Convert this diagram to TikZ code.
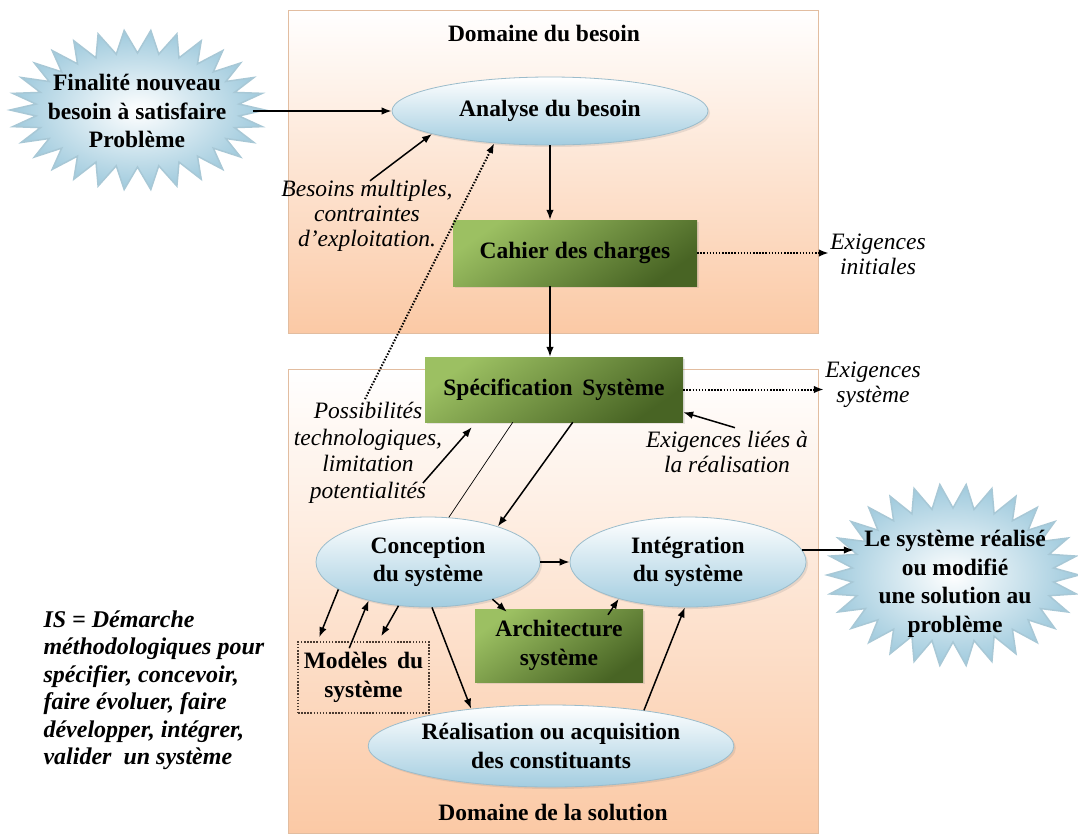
\documentclass[tikz,border=0pt]{standalone}
\usepackage{fontspec}
\setmainfont{Liberation Serif}
\usetikzlibrary{shapes.geometric,arrows.meta,shadows}
\definecolor{peach}{HTML}{FBC9A5}
\definecolor{peachedge}{HTML}{E2BDA0}
\definecolor{ellblue}{HTML}{A3CDE0}
\definecolor{ellline}{HTML}{9BBCCB}
\definecolor{glight}{HTML}{9CC062}
\definecolor{gdark}{HTML}{486424}
\definecolor{burstblue}{HTML}{9FCADD}
\definecolor{burstline}{HTML}{A8C8D6}
\definecolor{dotcol}{HTML}{4A3A30}
\begin{document}
\begin{tikzpicture}[x=1pt,y=-1pt,
  bf/.style={font=\fontsize{23.5}{28.5}\selectfont\bfseries,align=center,text=black},
  it/.style={font=\fontsize{23.5}{25}\selectfont\itshape,align=center,text=black},
  dombox/.style={rectangle,draw=peachedge,line width=1pt,top color=white,bottom color=peach,inner sep=0pt},
  ell/.style={ellipse,draw=ellline,line width=0.8pt,top color=white,bottom color=ellblue,inner sep=0pt,bf,
    drop shadow={opacity=0.18,shadow xshift=2pt,shadow yshift=-2pt}},
  gbox/.style={rectangle,inner sep=0pt,bf,top color=glight,bottom color=gdark,shading angle=35,
    drop shadow={opacity=0.18,shadow xshift=2pt,shadow yshift=-2pt}},
  burstsh/.style={draw=burstline,line width=1.5pt,inner color=white,outer color=burstblue},
  arr/.style={-{Latex[length=10pt,width=7.5pt]},line width=1.5pt},
  thinline/.style={line width=0.7pt},
  darr/.style={-{Latex[length=10pt,width=7.5pt]},line width=2pt,dash pattern=on 1.5pt off 1.6pt},
  dotbox/.style={rectangle,draw=dotcol,line width=1.6pt,dash pattern=on 1.5pt off 1.6pt,inner sep=0pt,bf}
]
\path[use as bounding box,fill=white] (0,0) rectangle (1078,836);

% domain boxes
\node[dombox,minimum width=530pt,minimum height=323pt] (besoinBox) at (553,171.5) {};
\node[dombox,minimum width=530pt,minimum height=464pt] (solBox) at (553,601) {};
\node[bf] (besTitle) at (544,33) {Domaine du besoin};
\node[bf] (solTitle) at (553,812) {Domaine de la solution};

% bursts
\path[burstsh] (265,110) \foreach \k in {0,...,29} {
   -- ({137.5+127.5*cos(\k*12)},{110+80*sin(\k*12)})
   -- ({137.5+102*cos((\k+0.5)*12)},{110+57*sin((\k+0.5)*12)}) } -- cycle;
\path[burstsh] (1079,575) \foreach \k in {0,...,29} {
   -- ({953+126*cos(\k*12)},{575+91*sin(\k*12)})
   -- ({953+101*cos((\k+0.5)*12)},{575+67*sin((\k+0.5)*12)}) } -- cycle;
\node[bf] (burstL) at (137,111) {Finalité nouveau\\besoin à satisfaire\\Problème};
\node[bf] (burstR) at (955,584) {Le système réalisé\\ou modifié\\une solution au\\problème};

% main nodes
\node[ell,minimum width=316pt,minimum height=68pt] (analyse) at (550,111) {Analyse du besoin};
\node[gbox,minimum width=244pt,minimum height=66pt] (cahier) at (575,253) {Cahier des charges};
\node[gbox,minimum width=258pt,minimum height=65pt] (spec) at (554,389.5) {Spécification\ \,Système};
\node[it] (exiInit) at (878,254) {Exigences\\initiales};
\node[it] (exiSys) at (873,385) {Exigences\\système};
\node[it] (besoinsTxt) at (367,216) {Besoins multiples,\\contraintes\\d’exploitation.};
\node[it,font=\fontsize{23.5}{26.5}\selectfont\itshape] (possTxt) at (368,453) {Possibilités\\technologiques,\\limitation\\potentialités};
\node[it] (exiLiees) at (727,452) {Exigences liées à\\la réalisation};
\node[ell,minimum width=224pt,minimum height=90pt] (concep) at (428,562) {Conception\\du système};
\node[ell,minimum width=236pt,minimum height=90pt] (integ) at (688,562) {Intégration\\du système};
\node[gbox,minimum width=168pt,minimum height=73pt] (archi) at (559,645.5) {Architecture\\système};
\node[dotbox,minimum width=131pt,minimum height=71pt] (modeles) at (363.5,677.5) {Modèles\ \,du\\système};
\node[ell,minimum width=312pt,minimum height=82pt] (realis) at (551,746) {Réalisation ou acquisition\\des constituants};
\node[font=\fontsize{24}{27.5}\selectfont\bfseries\itshape,align=left,anchor=west,text=black] (isTxt) at (40,690)
  {IS = Démarche\\méthodologiques pour\\spécifier, concevoir,\\faire évoluer, faire\\développer, intégrer,\\valider\ \ un système};

% connectors
\draw[arr] ([xshift=23pt]burstL.east) -- (analyse.west);
\draw[arr] ([xshift=3pt,yshift=-4pt]besoinsTxt.north) -- (analyse.191);
\draw[darr] ([xshift=-3pt]possTxt.north) -- (analyse.210);
\draw[arr] (analyse.south) -- (analyse.south |- cahier.north);
\draw[arr] (analyse.south |- cahier.south) -- (analyse.south |- spec.north);
\draw[darr] (cahier.east) -- ([xshift=2pt]cahier.east -| exiInit.west);
\draw[darr] (spec.east) -- ([xshift=2pt]spec.east -| exiSys.west);
\draw[arr] ([xshift=8pt]exiLiees.north) -- ([yshift=10pt]spec.south east);
\draw[arr] ([xshift=55pt,yshift=-30pt]possTxt.center) -- ([xshift=47pt,yshift=-5pt]spec.south west);
\draw[thinline] (concep.65) -- ([xshift=88pt]spec.south west);
\draw[arr] ([xshift=148pt]spec.south west) -- (concep.27);
\draw[arr] (concep.east) -- (integ.west);
\draw[arr] (concep.-30) -- ([xshift=32pt,yshift=-3pt]archi.north west);
\draw[arr] ([xshift=49pt,yshift=-6pt]archi.north) -- (integ.208);
\draw[arr] (concep.197) -- ([xshift=22pt,yshift=4pt]modeles.north west);
\draw[arr] ([xshift=52pt,yshift=-7pt]modeles.north west) -- (concep.213);
\draw[arr] (concep.236) -- ([xshift=84pt,yshift=5pt]modeles.north west);
\draw[arr] (concep.-85) -- (realis.155);
\draw[arr] (realis.21) -- (integ.-94);
\draw[arr] (integ.6) -- ([xshift=-7pt]burstR.west |- integ.6);
\end{tikzpicture}
\end{document}
